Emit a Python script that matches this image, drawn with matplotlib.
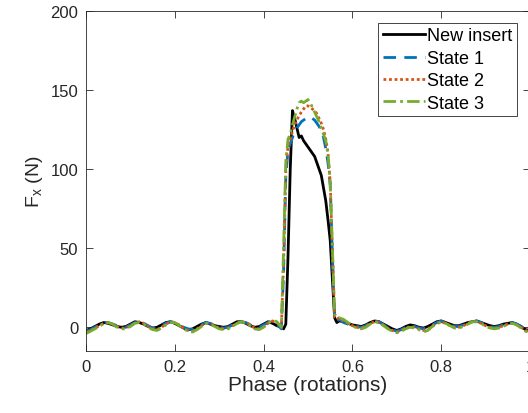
import numpy as np
from matplotlib import pyplot as plt

plt.rcParams['font.family'] = ['Liberation Sans', 'DejaVu Sans']

# phase grid: 0.01 steps, finer (0.005) across the pulse
phase_pre = np.round(np.arange(0.0, 0.435, 0.01), 3)
phase_pulse = np.round(np.arange(0.44, 0.5725, 0.005), 3)
phase_post = np.round(np.arange(0.58, 1.0025, 0.01), 3)
phase = np.concatenate([phase_pre, phase_pulse, phase_post])

new_pre = [-2, -1, 0.5, 2, 3, 2.5, 1.5, 0.5, 0, 0.5, 2, 3.5, 3, 2, 0.5,
           -0.5, 0, 1.5, 3, 3.5, 2.5, 1, -0.5, -1.5, -1, 0.5, 2, 3, 2, 1,
           0.5, 0, 0.5, 2, 3.5, 3.5, 2.5, 1, 0, 0.5, 2, 3.5, 2.5, 1]
new_pulse = [0, -1, 2, 45, 100, 137, 132, 126, 120, 121, 118, 116, 114, 112,
             110, 108, 104, 100, 96, 88, 80, 68, 55, 30, 6, 3, 4]
new_post = [3.5, 2.5, 1.5, 1, 0.5, 1.5, 3, 4, 3.5, 2, 0.5, -1, -2, -1, 0.5,
            1.5, 1, 0, -0.5, 0.5, 2, 3.5, 4, 3, 2, 1, 1, 2, 3, 3.5, 4, 3, 2,
            1, 0.5, 1, 2, 2.5, 3, 2, 0.5, -1.5, -2]

s1_pre = [-2.5, -1.5, 0, 1.5, 3, 3, 2, 1, 0, 0, 1.5, 3, 3.5, 2.5, 1, -0.5,
          -0.5, 1, 2.5, 3.5, 3, 1.5, 0, -1, -1.5, 0, 1.5, 3, 2.5, 1, 0, -0.5,
          0, 1.5, 3, 3.5, 3, 1.5, 0, 0, 1.5, 3, 4, 2]
s1_pulse = [-1, 35, 95, 112, 116, 120, 124, 126, 128, 130, 131, 132, 133, 133,
            132, 131, 129, 127, 124, 120, 113, 104, 90, 45, 5, 4, 5]
s1_post = [3, 2, 1.5, 0.5, 0, 1, 3, 4, 3.5, 1.5, 0, -1.5, -2.5, -1.5, 0, 1,
           0.5, -0.5, -1, 0, 1.5, 3, 4, 3, 1.5, 0.5, 0.5, 1.5, 3, 3.5, 4, 3,
           1.5, 0.5, 0, 0.5, 1.5, 2.5, 3, 2, 0.5, -1.5, -2.5]

s2_pre = [-3, -2, -0.5, 1, 2.5, 3, 2, 0.5, -0.5, -0.5, 1, 2.5, 3.5, 2.5, 0.5,
          -1, -1.5, 0, 2, 3.5, 3, 1.5, -0.5, -2, -2.5, -1, 1, 2.5, 2.5, 1,
          -0.5, -1, -0.5, 1, 2.5, 3.5, 3, 1.5, -0.5, -1, 0.5, 2.5, 4, 3]
s2_pulse = [0, 40, 100, 115, 118, 124, 128, 131, 134, 136, 138, 140, 140, 139,
            138, 137, 135, 132, 129, 125, 119, 110, 92, 48, 6, 5, 6]
s2_post = [4, 2.5, 1, 0, -0.5, 0.5, 2.5, 3.5, 3, 1.5, -0.5, -2, -3, -2, -0.5,
           0.5, 0, -1, -2, -1, 1, 2.5, 3.5, 2.5, 1, 0, 0, 1, 2.5, 3.5, 3.5,
           2.5, 1, 0, -0.5, 0, 1, 2, 2.5, 1.5, 0, -2, -3]

s3_pre = [-4, -2.5, -1, 0.5, 2.5, 3, 2, 0, -1, -1, 0.5, 2.5, 3, 2, 0, -1.5,
          -2, -0.5, 1.5, 3, 3, 1, -1, -2.5, -3, -1.5, 0.5, 2.5, 2, 0.5, -1,
          -1.5, -1, 0.5, 2.5, 3.5, 2.5, 1, -1, -1.5, 0, 2.5, 4.5, 3.5]
s3_pulse = [0, 50, 105, 119, 122, 128, 133, 138, 142, 143, 142, 143, 144, 142,
            139, 136, 133, 130, 126, 122, 118, 110, 92, 50, 8, 7, 6]
s3_post = [5, 3, 1, -0.5, -1, 0, 2, 3.5, 3, 1, -1, -2.5, -3.5, -2.5, -1, 0,
           -0.5, -1.5, -3, -2, 0.5, 2, 3.5, 2.5, 1, -0.5, -0.5, 0.5, 2, 3.5,
           3.5, 2.5, 0.5, -0.5, -1, -0.5, 0.5, 2, 2.5, 1.5, -0.5, -2.5, -3.5]

new_insert = np.concatenate([new_pre, new_pulse, new_post])
state1 = np.concatenate([s1_pre, s1_pulse, s1_post])
state2 = np.concatenate([s2_pre, s2_pulse, s2_post])
state3 = np.concatenate([s3_pre, s3_pulse, s3_post])

fig = plt.figure(figsize=(5.28, 4.14), dpi=100)
ax = fig.add_axes([86/528, 62/414, 444/528, 340/414])

ax.plot(phase, new_insert, color='k', lw=2, label='New insert')
ax.plot(phase, state1, color='#0072BD', lw=2, ls=(0, (4.5, 3)), label='State 1')
ax.plot(phase, state2, color='#D95319', lw=2, ls=(0, (1, 1)), label='State 2')
ax.plot(phase, state3, color='#77AC30', lw=2, ls=(0, (4.5, 1.5, 1, 1.5)), label='State 3')

ax.set_xlim(0, 1)
ax.set_ylim(-15, 200)
ax.set_xticks([0, 0.2, 0.4, 0.6, 0.8, 1])
ax.set_xticklabels(['0', '0.2', '0.4', '0.6', '0.8', '1'])
ax.set_yticks([0, 50, 100, 150, 200])
ax.tick_params(direction='in', top=True, right=True, labelsize=12,
               colors='#262626', length=5, width=0.6)
ax.tick_params(axis='x', pad=5.5)
ax.tick_params(axis='y', pad=5.5)
for s in ax.spines.values():
    s.set_color('#262626')
    s.set_linewidth(0.6)

ax.set_xlabel('Phase (rotations)', fontsize=15, color='#262626', labelpad=1)
ax.set_ylabel('F$_\\mathregular{x}$ (N)', fontsize=14, color='#262626')

leg = ax.legend(loc='upper right', bbox_to_anchor=(0.971, 0.965), fontsize=13,
                handlelength=2.35, handletextpad=0.12, borderpad=0.25,
                borderaxespad=0, labelspacing=0.3, fancybox=False, framealpha=1)
leg.get_frame().set_edgecolor('#262626')
leg.get_frame().set_linewidth(0.6)

fig.savefig('out.png', dpi=100)
